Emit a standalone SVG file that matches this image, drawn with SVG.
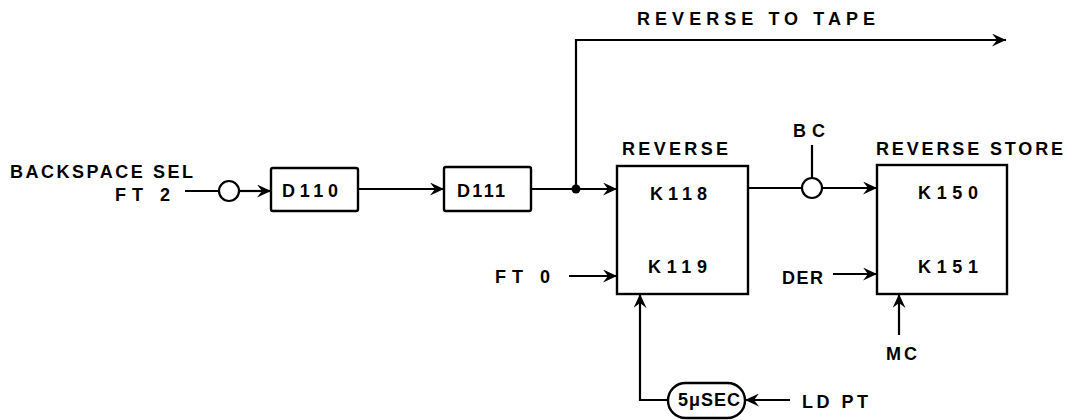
<svg xmlns="http://www.w3.org/2000/svg" width="1070" height="420" viewBox="0 0 1070 420">
<style>
.ln{fill:none;stroke:#000;stroke-width:2.2}
.bx{fill:#fff;stroke:#000;stroke-width:2.4}
.t{font-family:"Liberation Sans",Arial,sans-serif;font-weight:bold;font-size:18px;fill:#000}
</style>
<defs>
<marker id="ah" markerUnits="userSpaceOnUse" markerWidth="15" markerHeight="13" refX="14" refY="6.5" orient="auto">
<path d="M0,0 L14,6.5 L0,13 L5,6.5 Z" fill="#000"/>
</marker>
</defs>
<rect width="1070" height="420" fill="#fff"/>
<g id="connectors">
<path class="ln" d="M185,191 H219"/>
<path class="ln" d="M239,191 H271" marker-end="url(#ah)"/>
<path class="ln" d="M358,189 H444" marker-end="url(#ah)"/>
<path class="ln" d="M531,189 H617" marker-end="url(#ah)"/>
<path class="ln" d="M576,189 V40 H1006" marker-end="url(#ah)"/>
<circle cx="576" cy="189" r="4.5" fill="#000"/>
<path class="ln" d="M748,188 H802"/>
<path class="ln" d="M822,188 H877" marker-end="url(#ah)"/>
<path class="ln" d="M812,145 V178"/>
<path class="ln" d="M569,276 H617" marker-end="url(#ah)"/>
<path class="ln" d="M833,274 H877" marker-end="url(#ah)"/>
<path class="ln" d="M899,335 V294" marker-end="url(#ah)"/>
<path class="ln" d="M668,400 H640 V294" marker-end="url(#ah)"/>
<path class="ln" d="M790,400 H745" marker-end="url(#ah)"/>
</g>
<g id="inv1"><circle class="ln" cx="229" cy="191" r="10"/></g>
<g id="inv2"><circle class="ln" cx="812" cy="188" r="10"/></g>
<g id="d110">
<rect class="bx" x="271" y="168" width="87" height="43" rx="2"/>
<text class="t" x="282" y="197" textLength="56" lengthAdjust="spacing">D110</text>
</g>
<g id="d111">
<rect class="bx" x="444" y="167" width="87" height="44" rx="2"/>
<text class="t" x="457" y="197" font-size="17" textLength="48" lengthAdjust="spacing">D111</text>
</g>
<g id="reverse">
<rect class="bx" x="617" y="166" width="131" height="128"/>
<text class="t" x="622" y="155" textLength="106" lengthAdjust="spacing">REVERSE</text>
<text class="t" x="650" y="200" textLength="57" lengthAdjust="spacing">K118</text>
<text class="t" x="648" y="273" textLength="59" lengthAdjust="spacing">K119</text>
</g>
<g id="reverse-store">
<rect class="bx" x="877" y="165" width="130" height="129"/>
<text class="t" x="876" y="155" textLength="187" lengthAdjust="spacing">REVERSE STORE</text>
<text class="t" x="918" y="199" textLength="60" lengthAdjust="spacing">K150</text>
<text class="t" x="918" y="273" textLength="60" lengthAdjust="spacing">K151</text>
</g>
<g id="oneshot">
<rect class="bx" x="668" y="383" width="77" height="35" rx="17.5"/>
<text class="t" x="678" y="406" font-size="14" textLength="62" lengthAdjust="spacing">5μSEC</text>
</g>
<g id="labels">
<text class="t" x="10" y="178" textLength="183" lengthAdjust="spacing">BACKSPACE SEL</text>
<text class="t" x="115" y="201" textLength="55" lengthAdjust="spacing">FT 2</text>
<text class="t" x="637" y="25" textLength="238" lengthAdjust="spacing">REVERSE TO TAPE</text>
<text class="t" x="793" y="137" textLength="32" lengthAdjust="spacing">BC</text>
<text class="t" x="495" y="283" textLength="55" lengthAdjust="spacing">FT 0</text>
<text class="t" x="782" y="284" textLength="41" lengthAdjust="spacing">DER</text>
<text class="t" x="886" y="360" textLength="31" lengthAdjust="spacing">MC</text>
<text class="t" x="802" y="408" textLength="66" lengthAdjust="spacing">LD PT</text>
</g>
</svg>
